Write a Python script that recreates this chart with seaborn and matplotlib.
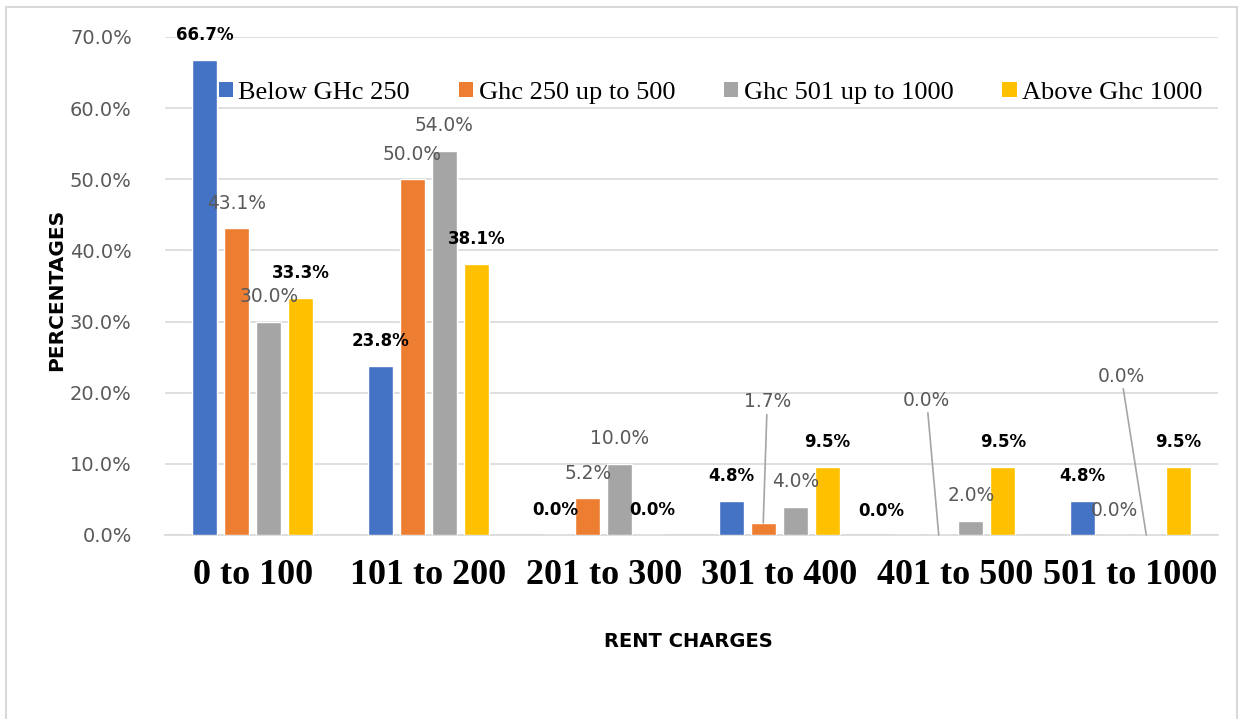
import pandas as pd
import seaborn as sns
import matplotlib.pyplot as plt
from matplotlib.patches import Patch, Rectangle
from matplotlib.ticker import FuncFormatter

# Data (percent)
rent_charges = ["0 to 100", "101 to 200", "201 to 300", "301 to 400", "401 to 500", "501 to 1000"]
series_names = ["Below GHc 250", "Ghc 250 up to 500", "Ghc 501 up to 1000", "Above Ghc 1000"]
below_250 = [66.7, 23.8, 0.0, 4.8, 0.0, 4.8]
ghc_250_500 = [43.1, 50.0, 5.2, 1.7, 0.0, 0.0]
ghc_501_1000 = [30.0, 54.0, 10.0, 4.0, 2.0, 0.0]
above_1000 = [33.3, 38.1, 0.0, 9.5, 9.5, 9.5]

colors = ["#4472C4", "#ED7D31", "#A5A5A5", "#FFC000"]

rows = []
for name, vals in zip(series_names, [below_250, ghc_250_500, ghc_501_1000, above_1000]):
    for cat, v in zip(rent_charges, vals):
        rows.append({"Rent": cat, "Income": name, "Pct": v})
df = pd.DataFrame(rows)

sns.set_style("white")
plt.rcParams["font.family"] = ["DejaVu Sans"]
plt.rcParams["text.color"] = "black"

fig = plt.figure(figsize=(12.46, 7.19), dpi=100)
ax = fig.add_axes([165 / 1246, 1 - 535 / 719, 1053 / 1246, 498 / 719])

sns.barplot(data=df, x="Rent", y="Pct", hue="Income", order=rent_charges,
            hue_order=series_names, palette=colors, width=0.73, gap=0.22,
            saturation=1, legend=False, ax=ax, zorder=3)

ax.set_ylim(0, 70)
ax.set_xlim(-0.5, 5.5)
ax.set_yticks(range(0, 71, 10))
ax.yaxis.set_major_formatter(FuncFormatter(lambda v, p: f"{v:.1f}%"))
ax.grid(axis="y", color="#D9D9D9", lw=1.2, zorder=0)
ax.grid(axis="x", visible=False)
for s in ["top", "right", "left"]:
    ax.spines[s].set_visible(False)
ax.spines["bottom"].set_color("#D9D9D9")
ax.spines["bottom"].set_linewidth(1.2)
ax.tick_params(axis="both", length=0)
ax.tick_params(axis="y", labelsize=14, labelcolor="#595959", pad=24)
ax.tick_params(axis="x", pad=17, labelcolor="black")
for lbl in ax.get_xticklabels():
    lbl.set_fontfamily("Liberation Serif")
    lbl.set_fontweight("bold")
    lbl.set_fontsize(26)

ax.set_xlabel("RENT CHARGES", fontsize=14, fontweight="bold", color="black")
ax.set_ylabel("PERCENTAGES", fontsize=14.5, fontweight="bold", color="black")
ax.xaxis.set_label_coords(0.497, (535 - 632) / 498)
ax.yaxis.set_label_coords((66 - 165) / 1053, 0.492)

# data labels: (dx, dy) in pixels from bar top, some with leader lines
nudge = {
    (0, 4): (-25, 24),
    (1, 3): (4, 121), (1, 4): (-12, 135),
    (2, 5): (-25, 159),
}
leaders = {(1, 3), (1, 4), (2, 5)}

for i, cont in enumerate(ax.containers):
    bars = sorted(cont.patches, key=lambda b: b.get_x())
    bold = i in (0, 3)
    for j, bar in enumerate(bars):
        x = bar.get_x() + bar.get_width() / 2
        h = bar.get_height()
        dx, dy = nudge.get((i, j), (0, 25))
        kw = {}
        if (i, j) in leaders:
            kw["arrowprops"] = dict(arrowstyle="-", color="#A5A5A5", lw=1.2,
                                    shrinkA=0, shrinkB=0)
        ax.annotate(f"{h:.1f}%", xy=(x, h), xytext=(dx, dy), textcoords="offset pixels",
                    ha="center", va="center", fontsize=12 if bold else 13.4,
                    fontweight="bold" if bold else "normal",
                    color="black" if bold else "#595959", zorder=5, **kw)

handles = [Patch(facecolor=c, edgecolor="none") for c in colors]
leg = ax.legend(handles, series_names, loc="center", bbox_to_anchor=(0.518, 0.888),
                ncol=4, frameon=False, handlelength=0.55, handleheight=0.5,
                handletextpad=0.2, columnspacing=1.85,
                prop={"family": "Liberation Serif", "size": 19})
for t in leg.get_texts():
    t.set_color("black")

fig.patches.append(Rectangle((6 / 1246, -0.05), 1231 / 1246, 1.05 - 7 / 719,
                             transform=fig.transFigure, fill=False,
                             edgecolor="#D9D9D9", lw=1.5))

fig.savefig("out.png", dpi=100)
